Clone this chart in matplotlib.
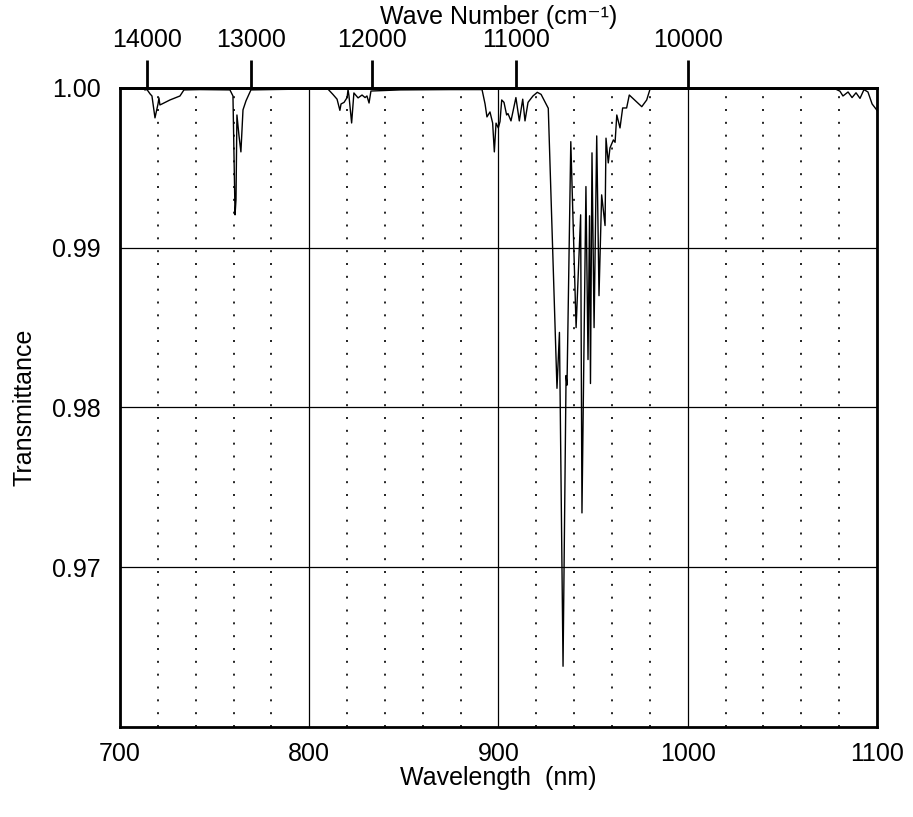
import numpy as np
import matplotlib.pyplot as plt

plt.rcParams['font.family'] = ['Liberation Sans', 'DejaVu Sans']

#%% Data
wavelength = [713.2, 714.3, 715.9, 716.9, 718.5, 720.1, 720.6, 721.1, 722.2, 726.4,
              731.7, 733.8, 742.3, 758.1, 759.7, 760.8, 761.3, 761.8, 762.9, 763.9,
              765.0, 766.6, 769.2, 795.1, 809.9, 812.5, 814.7, 816.2, 816.8, 818.4,
              820.0, 820.5, 821.0, 822.4, 823.6, 825.8, 827.9, 829.5, 830.5, 831.6,
              832.6, 848.0, 874.4, 891.3, 892.9, 893.9, 895.5, 896.9, 897.8, 898.7,
              899.9, 900.8, 901.7, 902.9, 904.3, 905.0, 906.6, 909.2, 911.0, 912.8,
              914.0, 915.6, 918.2, 920.5, 922.5, 926.3, 930.9, 932.2, 934.1, 935.7,
              936.2, 938.2, 941.0, 943.4, 944.1, 946.2, 947.3, 948.1, 948.6, 949.4,
              950.5, 951.9, 953.1, 954.5, 956.3, 956.8, 958.0, 958.9, 960.7, 961.6,
              962.5, 964.2, 965.6, 967.7, 969.1, 975.7, 978.3, 980.1, 1006.5, 1059.3,
              1077.8, 1080.4, 1082.0, 1084.7, 1086.8, 1088.9, 1091.0, 1093.1, 1095.2,
              1097.4, 1100.0]
transmittance = [0.99988, 0.99990, 0.99963, 0.99950, 0.99813, 0.99900, 0.99938, 0.99894, 0.99900, 0.99925,
                 0.99950, 0.99988, 0.99990, 0.99988, 0.99950, 0.99206, 0.99300, 0.99831, 0.99700, 0.99600,
                 0.99863, 0.99920, 0.99988, 0.99993, 0.99993, 0.99960, 0.99930, 0.99860, 0.99900, 0.99910,
                 0.99940, 0.99990, 0.99950, 0.99781, 0.99969, 0.99938, 0.99956, 0.99940, 0.99950, 0.99906,
                 0.99981, 0.99988, 0.99990, 0.99990, 0.99900, 0.99819, 0.99850, 0.99781, 0.99600, 0.99780,
                 0.99750, 0.99790, 0.99925, 0.99910, 0.99831, 0.99840, 0.99794, 0.99940, 0.99794, 0.99930,
                 0.99794, 0.99910, 0.99950, 0.99973, 0.99960, 0.99873, 0.98120, 0.98470, 0.96380, 0.98200,
                 0.98140, 0.99664, 0.98500, 0.99206, 0.97340, 0.99383, 0.98300, 0.99200, 0.98150, 0.99594,
                 0.98500, 0.99700, 0.98700, 0.99331, 0.99139, 0.99686, 0.99531, 0.99625, 0.99675, 0.99660,
                 0.99831, 0.99750, 0.99875, 0.99875, 0.99956, 0.99883, 0.99925, 0.99994, 0.99995, 0.99995,
                 0.99995, 0.99980, 0.99950, 0.99975, 0.99940, 0.99970, 0.99935, 0.99990, 0.99975,
                 0.99900, 0.99860]

x_major = [700, 800, 900, 1000, 1100]
x_minor = [720, 740, 760, 780, 820, 840, 860, 880, 920, 940, 960, 980, 1020, 1040, 1060, 1080]
y_ticks = [0.97, 0.98, 0.99, 1.00]
wn_ticks = [14000, 13000, 12000, 11000, 10000]

#%% Plotting
fig = plt.figure(figsize=(9.13, 8.17), dpi=100)
ax = fig.add_axes([0.1314, 0.1102, 0.8292, 0.7821])

ax.plot(wavelength, transmittance, 'k-', lw=1.0, zorder=3)

ax.set_xlim(700, 1100)
ax.set_ylim(0.96, 1.00)
ax.set_xticks(x_major)
ax.set_xticks(x_minor, minor=True)
ax.set_yticks(y_ticks)
ax.set_yticklabels(['%.2f' % v for v in y_ticks])

ax.grid(which='major', axis='both', color='k', lw=0.9, ls='-')
ax.grid(which='minor', axis='x', color='k', lw=1.2, ls=(0, (1.2, 6.5)))
ax.set_axisbelow(True)

ax.tick_params(which='both', length=0, labelsize=18)
ax.tick_params(axis='x', pad=11)
ax.tick_params(axis='y', pad=14)
for s in ax.spines.values():
    s.set_linewidth(2.0)

ax.set_xlabel('Wavelength  (nm)', fontsize=18, labelpad=0)
ax.set_ylabel('Transmittance', fontsize=18, labelpad=11)

top = ax.secondary_xaxis('top', functions=(lambda x: 1e7 / x, lambda x: 1e7 / x))
top.set_xticks(wn_ticks)
top.tick_params(direction='out', length=20, width=2.0, labelsize=18, pad=6)
top.spines['top'].set_linewidth(2.0)
top.set_xlabel('Wave Number (cm\u207b\u00b9)', fontsize=18, labelpad=2.5)

fig.savefig('out.png', dpi=100)
